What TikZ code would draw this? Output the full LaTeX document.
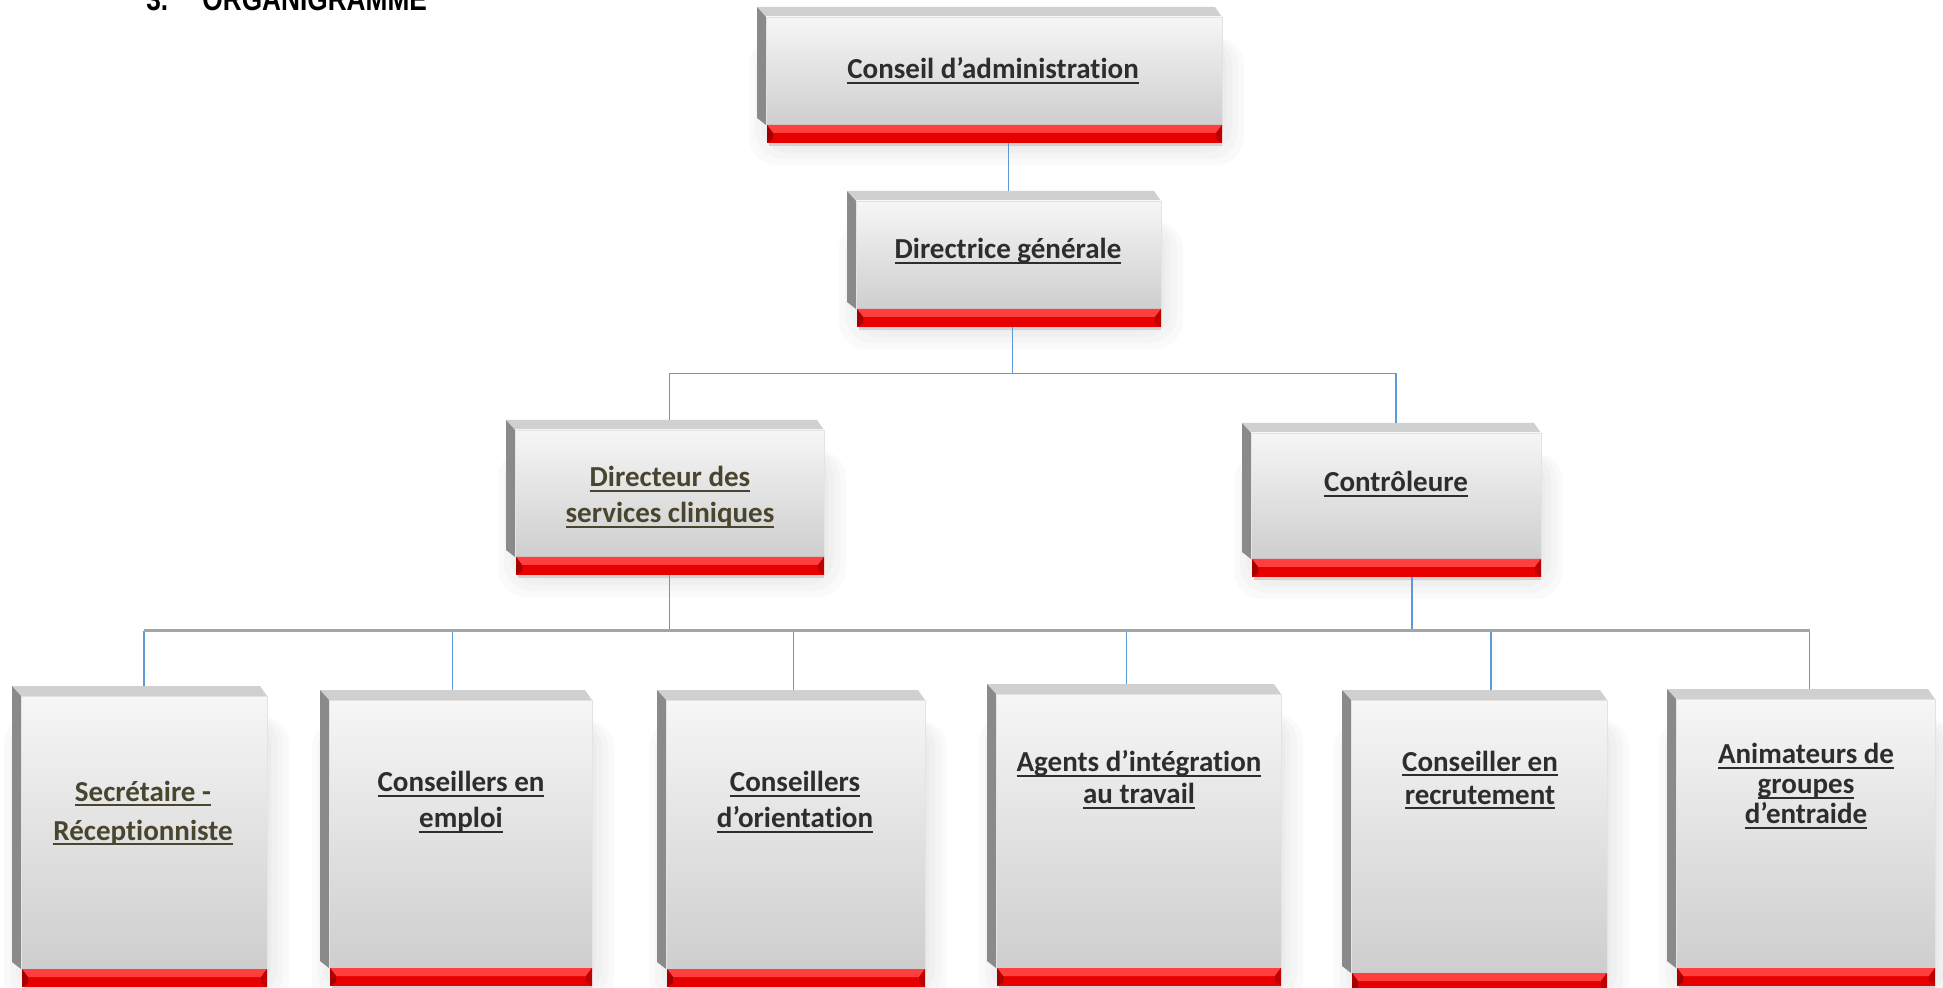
\documentclass[tikz,border=0pt]{standalone}
\usepackage{fontspec}
\setmainfont{Carlito}[Ligatures=NoCommon]
\newfontfamily\headfont{Liberation Sans}[FakeStretch=0.82]
\usetikzlibrary{calc,fit}

\definecolor{connBlue}{RGB}{91,155,213}
\definecolor{busGray}{RGB}{165,165,165}
\definecolor{bevTop}{RGB}{208,208,208}
\definecolor{bevLeft}{RGB}{138,138,138}
\definecolor{faceHi}{RGB}{246,246,246}
\definecolor{faceLo}{RGB}{206,206,206}
\definecolor{redHi}{RGB}{255,62,62}
\definecolor{redLo}{RGB}{230,0,0}
\definecolor{redDk}{RGB}{165,0,0}
\definecolor{txtGray}{RGB}{45,45,45}
\definecolor{txtOlive}{RGB}{74,69,46}

% underlined line of text
\newcommand\ulbox[1]{\setbox0\hbox{#1}\rlap{\rule[-2.6pt]{\wd0}{0.9pt}}\box0}

% 3-d box with red bar: name, left, top, right, bottom of the bar
\newcommand\orgbox[5]{%
  \foreach \g in {4,10,16,22}
    \fill[black, opacity=.02, rounded corners=14] (#2+14-\g,#3+30) rectangle (#4+\g,#5+\g);
  \fill[bevTop] (#2,#3) -- (#4-7,#3) -- (#4,#3+10) -- (#2+9,#3+10) -- cycle;
  \fill[bevLeft] (#2,#3) -- (#2+9,#3+10) -- (#2+9,#5-18) -- (#2,#5-25) -- cycle;
  \shade[top color=faceHi, bottom color=faceLo, draw=gray!22] (#2+9,#3+10) rectangle (#4,#5-18);
  \fill[gray!35] (#2+12,#5) rectangle (#4,#5+3);
  \fill[redLo] (#2+10,#5-18) rectangle (#4,#5);
  \fill[redHi] (#2+10,#5-18) -- (#4,#5-18) -- (#4-6,#5-10) -- (#2+16,#5-10) -- cycle;
  \fill[redDk] (#2+10,#5-18) -- (#2+16,#5-10) -- (#2+16,#5-4) -- (#2+10,#5) -- cycle;
  \fill[redDk!60!redLo] (#4,#5-18) -- (#4-6,#5-10) -- (#4-6,#5-4) -- (#4,#5) -- cycle;
  \node[fit={(#2+9,#3) (#4,#5)}, inner sep=0pt] (#1) {};
}

\tikzset{
  conn/.style={draw=connBlue, line width=0.8pt},
  bus/.style={draw=busGray, line width=1.7pt},
  lbl/.style={text=txtGray, align=center, inner sep=0pt,
    font=\fontsize{14.5pt}{#1}\selectfont\bfseries},
  lbl/.default=18pt,
  head/.style={inner sep=0pt, font=\headfont\fontsize{16pt}{19pt}\selectfont\bfseries}
}

\begin{document}
\begin{tikzpicture}[x=0.5pt,y=-0.5pt]
\useasboundingbox (0,0) rectangle (1943,988);

\node[head, anchor=base west] (hnum) at (146,11) {3.};
\node[head, anchor=base west] (htitle) at (202,11) {ORGANIGRAMME};

% boxes
\orgbox{ca}{757}{7}{1222}{143}
\orgbox{dg}{847}{191}{1161}{327}
\orgbox{dsc}{506}{420}{824}{575}
\orgbox{ctl}{1242}{423}{1541}{577}
\orgbox{sec}{12}{686}{267}{987}
\orgbox{cem}{320}{690}{592}{986}
\orgbox{cor}{657}{690}{925}{987}
\orgbox{agi}{987}{684}{1281}{986}
\orgbox{crc}{1342}{690}{1607}{991}
\orgbox{agr}{1667}{689}{1935}{986}

% labels
\node[lbl] (ca-t) at (993,71) {\ulbox{Conseil d’administration}};
\node[lbl] (dg-t) at (1008,251) {\ulbox{Directrice générale}};
\node[lbl, text=txtOlive] (dsc-t) at (670,497) {\ulbox{Directeur des}\\\ulbox{services cliniques}};
\node[lbl] (ctl-t) at (1396,484) {\ulbox{Contrôleure}};
\node[lbl=19.5pt, text=txtOlive] (sec-t) at (143,813) {\ulbox{Secrétaire -}\\\ulbox{Réceptionniste}};
\node[lbl] (cem-t) at (461,802) {\ulbox{Conseillers en}\\\ulbox{emploi}};
\node[lbl] (cor-t) at (795,802) {\ulbox{Conseillers}\\\ulbox{d’orientation}};
\node[lbl=16pt] (agi-t) at (1139,780) {\ulbox{Agents d’intégration}\\\ulbox{au travail}};
\node[lbl=16.5pt] (crc-t) at (1480,780) {\ulbox{Conseiller en}\\\ulbox{recrutement}};
\node[lbl=15pt] (agr-t) at (1806,786) {\ulbox{Animateurs de}\\\ulbox{groupes}\\\ulbox{d’entraide}};

% connectors
\draw[conn] (ca.south -| dg.north) -- (dg.north);
\coordinate (j1) at ($(dg.south)!.5!(dg.south |- dsc.north)$);
\draw[conn] ([xshift=2]dg.south) -- ([xshift=2]dg.south |- j1);
\draw[conn] (dsc.north) |- (j1) -| (ctl.north);

\coordinate (j2) at ($(dsc.south)!.5!(dsc.south |- sec.north)$);
\draw[conn] (dsc.south) -- (dsc.south |- j2);
\draw[conn] ([xshift=8]ctl.south) -- ([xshift=8]ctl.south |- j2);
\foreach \b/\dx in {sec/0,cem/-4,cor/-1,agi/-6,crc/6,agr/2}
  \draw[conn] ([xshift=\dx]\b.north) -- ([xshift=\dx]\b.north |- j2);
\draw[bus] (sec.north |- j2) -- ([xshift=2]agr.north |- j2);
\end{tikzpicture}
\end{document}
